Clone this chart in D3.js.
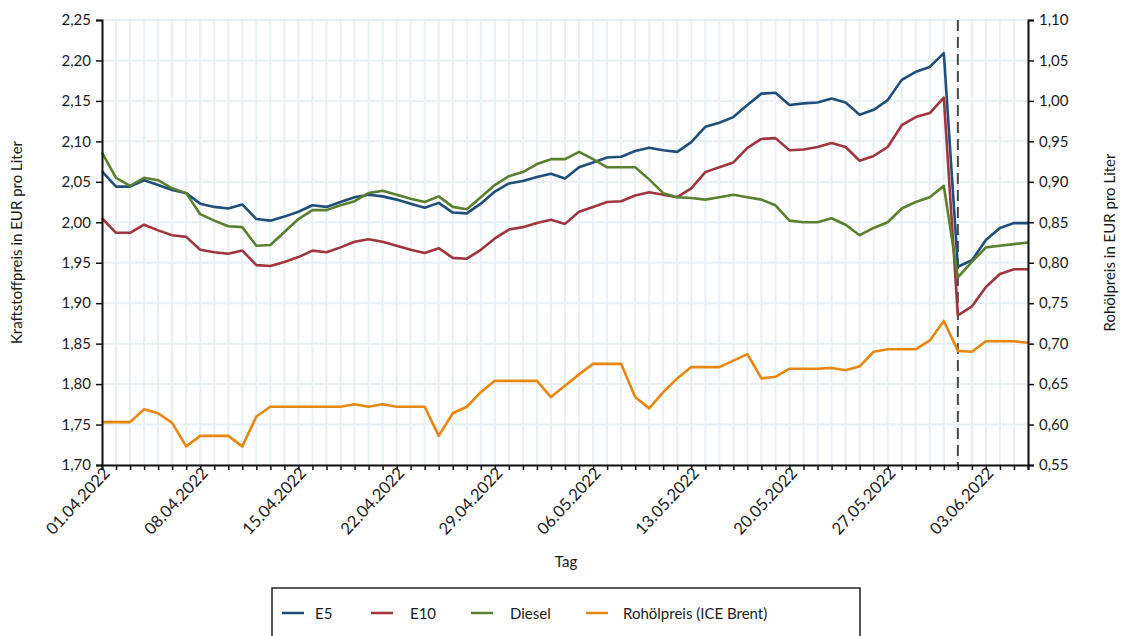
<!DOCTYPE html>
<html><head><meta charset="utf-8">
<script src="https://cdn.jsdelivr.net/npm/d3@7"></script>
<style>
html,body{margin:0;padding:0;background:#fff;}
svg{display:block;font-family:Lato,sans-serif;}
</style></head>
<body><svg id="c" width="1122" height="636"></svg>
<script>
const startDate = "2022-04-01";
const e5 = [2.063,2.044,2.044,2.052,2.046,2.040,2.036,2.023,2.019,2.017,2.022,2.004,2.002,2.007,2.013,2.021,2.019,2.025,2.031,2.034,2.032,2.028,2.023,2.018,2.024,2.012,2.011,2.023,2.038,2.048,2.051,2.056,2.060,2.054,2.068,2.074,2.080,2.081,2.088,2.092,2.089,2.087,2.099,2.118,2.123,2.130,2.145,2.159,2.160,2.145,2.147,2.148,2.153,2.148,2.133,2.139,2.151,2.176,2.186,2.192,2.209,1.945,1.953,1.978,1.993,1.999,1.999];
const e10 = [2.005,1.987,1.987,1.997,1.990,1.984,1.982,1.966,1.963,1.961,1.965,1.947,1.946,1.951,1.957,1.965,1.963,1.969,1.976,1.979,1.976,1.971,1.966,1.962,1.968,1.956,1.955,1.966,1.980,1.991,1.994,1.999,2.003,1.998,2.013,2.019,2.025,2.026,2.033,2.037,2.034,2.031,2.042,2.062,2.068,2.074,2.092,2.103,2.104,2.089,2.090,2.093,2.098,2.093,2.076,2.082,2.093,2.120,2.130,2.135,2.154,1.885,1.896,1.920,1.936,1.942,1.942];
const diesel = [2.086,2.055,2.045,2.055,2.052,2.042,2.036,2.010,2.002,1.995,1.994,1.971,1.972,1.988,2.004,2.015,2.015,2.021,2.026,2.036,2.039,2.034,2.029,2.025,2.032,2.019,2.016,2.031,2.046,2.057,2.062,2.072,2.078,2.078,2.087,2.078,2.068,2.068,2.068,2.053,2.036,2.031,2.030,2.028,2.031,2.034,2.031,2.028,2.021,2.002,2.000,2.000,2.005,1.997,1.984,1.993,2.000,2.017,2.025,2.031,2.045,1.932,1.951,1.969,1.971,1.973,1.975];
const brent = [0.603,0.603,0.603,0.619,0.614,0.602,0.573,0.586,0.586,0.586,0.573,0.610,0.622,0.622,0.622,0.622,0.622,0.622,0.625,0.622,0.625,0.622,0.622,0.622,0.586,0.614,0.622,0.640,0.654,0.654,0.654,0.654,0.634,0.648,0.662,0.675,0.675,0.675,0.634,0.620,0.640,0.657,0.671,0.671,0.671,0.679,0.687,0.657,0.659,0.669,0.669,0.669,0.670,0.667,0.672,0.690,0.693,0.693,0.693,0.704,0.728,0.691,0.690,0.703,0.703,0.703,0.701];
const leftTicks = [1.70,1.75,1.80,1.85,1.90,1.95,2.00,2.05,2.10,2.15,2.20,2.25];
const rightTicks = [0.55,0.60,0.65,0.70,0.75,0.80,0.85,0.90,0.95,1.00,1.05,1.10];
const markerDate = "2022-06-01";
const seriesNames = ["E5","E10","Diesel","Rohölpreis (ICE Brent)"];
const seriesColors = ["#1f4e7a","#a0353d","#5a7f2e","#e8870f"];

const FS = "15px";
const svg = d3.select("#c");
const M = {l:102, r:1028, t:20, b:465};
const parse = d3.utcParse("%Y-%m-%d");
const d0 = parse(startDate);
const dates = e5.map((_,i)=>d3.utcDay.offset(d0,i));
const x = d3.scaleUtc().domain([dates[0], dates[dates.length-1]]).range([M.l, M.r]);
const yL = d3.scaleLinear().domain([1.70,2.25]).range([M.b, M.t]);
const yR = d3.scaleLinear().domain([0.55,1.10]).range([M.b, M.t]);
const loc = d3.formatLocale({decimal:",",thousands:".",grouping:[3],currency:["","€"]});
const f2 = loc.format(".2f");

// grid
const g = svg.append("g");
g.selectAll("line.v").data(dates).join("line")
  .attr("x1",d=>x(d)).attr("x2",d=>x(d)).attr("y1",M.t).attr("y2",M.b)
  .attr("stroke","#e8f0f3").attr("stroke-width",2);
g.selectAll("line.h").data(leftTicks).join("line")
  .attr("x1",M.l).attr("x2",M.r).attr("y1",d=>yL(d)).attr("y2",d=>yL(d))
  .attr("stroke","#e8f0f3").attr("stroke-width",2);

// dashed marker
svg.append("line").attr("x1",x(parse(markerDate))).attr("x2",x(parse(markerDate)))
  .attr("y1",M.t).attr("y2",M.b).attr("stroke","#4a4a4a").attr("stroke-width",2)
  .attr("stroke-dasharray","11,6");

// lines
const lineL = d3.line().x((d,i)=>x(dates[i])).y(d=>yL(d));
const lineR = d3.line().x((d,i)=>x(dates[i])).y(d=>yR(d));
[[e5,0],[e10,1],[diesel,2]].forEach(([s,k])=>{
  svg.append("path").attr("d",lineL(s)).attr("fill","none")
    .attr("stroke",seriesColors[k]).attr("stroke-width",2.6).attr("stroke-linejoin","round");
});
svg.append("path").attr("d",lineR(brent)).attr("fill","none")
  .attr("stroke",seriesColors[3]).attr("stroke-width",2.6).attr("stroke-linejoin","round");

// axes
const axL = svg.append("g").attr("transform",`translate(${M.l},0)`)
  .call(d3.axisLeft(yL).tickValues(leftTicks).tickFormat(f2).tickSize(6).tickPadding(5));
const axR = svg.append("g").attr("transform",`translate(${M.r},0)`)
  .call(d3.axisRight(yR).tickValues(rightTicks).tickFormat(f2).tickSize(6).tickPadding(5));
const weekly = dates.filter((d,i)=>i%7===0);
const axB = svg.append("g").attr("transform",`translate(0,${M.b})`)
  .call(d3.axisBottom(x).tickValues(dates).tickFormat(d=> weekly.some(w=>+w===+d) ? d3.utcFormat("%d.%m.%Y")(d) : "").tickSize(5).tickPadding(3));
[axL,axR,axB].forEach(a=>{
  a.select(".domain").attr("stroke","#111").attr("stroke-width",2);
  a.selectAll(".tick line").attr("stroke","#111").attr("stroke-width",1.5);
  a.selectAll("text").attr("fill","#1a1a1a").style("font-size",FS).style("font-family","Lato,sans-serif");
});
axB.selectAll(".tick text").style("font-size","16.5px").attr("text-anchor","end")
  .attr("transform","translate(4,5) rotate(-47)").attr("dy","0.35em").attr("y",0).attr("x",0);

// axis titles
svg.append("text").attr("transform",`translate(22,${(M.t+M.b)/2}) rotate(-90)`)
  .attr("text-anchor","middle").style("font-size",FS).attr("fill","#1a1a1a")
  .text("Kraftstoffpreis in EUR pro Liter");
svg.append("text").attr("transform",`translate(1115,${(M.t+M.b)/2}) rotate(-90)`)
  .attr("text-anchor","middle").style("font-size",FS).attr("fill","#1a1a1a")
  .text("Rohölpreis in EUR pro Liter");
svg.append("text").attr("x",566).attr("y",567).attr("text-anchor","middle")
  .style("font-size",FS).attr("fill","#1a1a1a").text("Tag");

// legend
svg.append("rect").attr("x",272).attr("y",588).attr("width",588).attr("height",60)
  .attr("fill","#fff").attr("stroke","#222").attr("stroke-width",1.5);
const legX = [282,371,471,586];
const legTX = [315,410,510,623];
seriesNames.forEach((n,k)=>{
  svg.append("line").attr("x1",legX[k]).attr("x2",legX[k]+22).attr("y1",613).attr("y2",613)
    .attr("stroke",seriesColors[k]).attr("stroke-width",2.5);
  svg.append("text").attr("x",legTX[k]).attr("y",619).style("font-size",FS)
    .attr("fill","#1a1a1a").text(n);
});
</script></body></html>
